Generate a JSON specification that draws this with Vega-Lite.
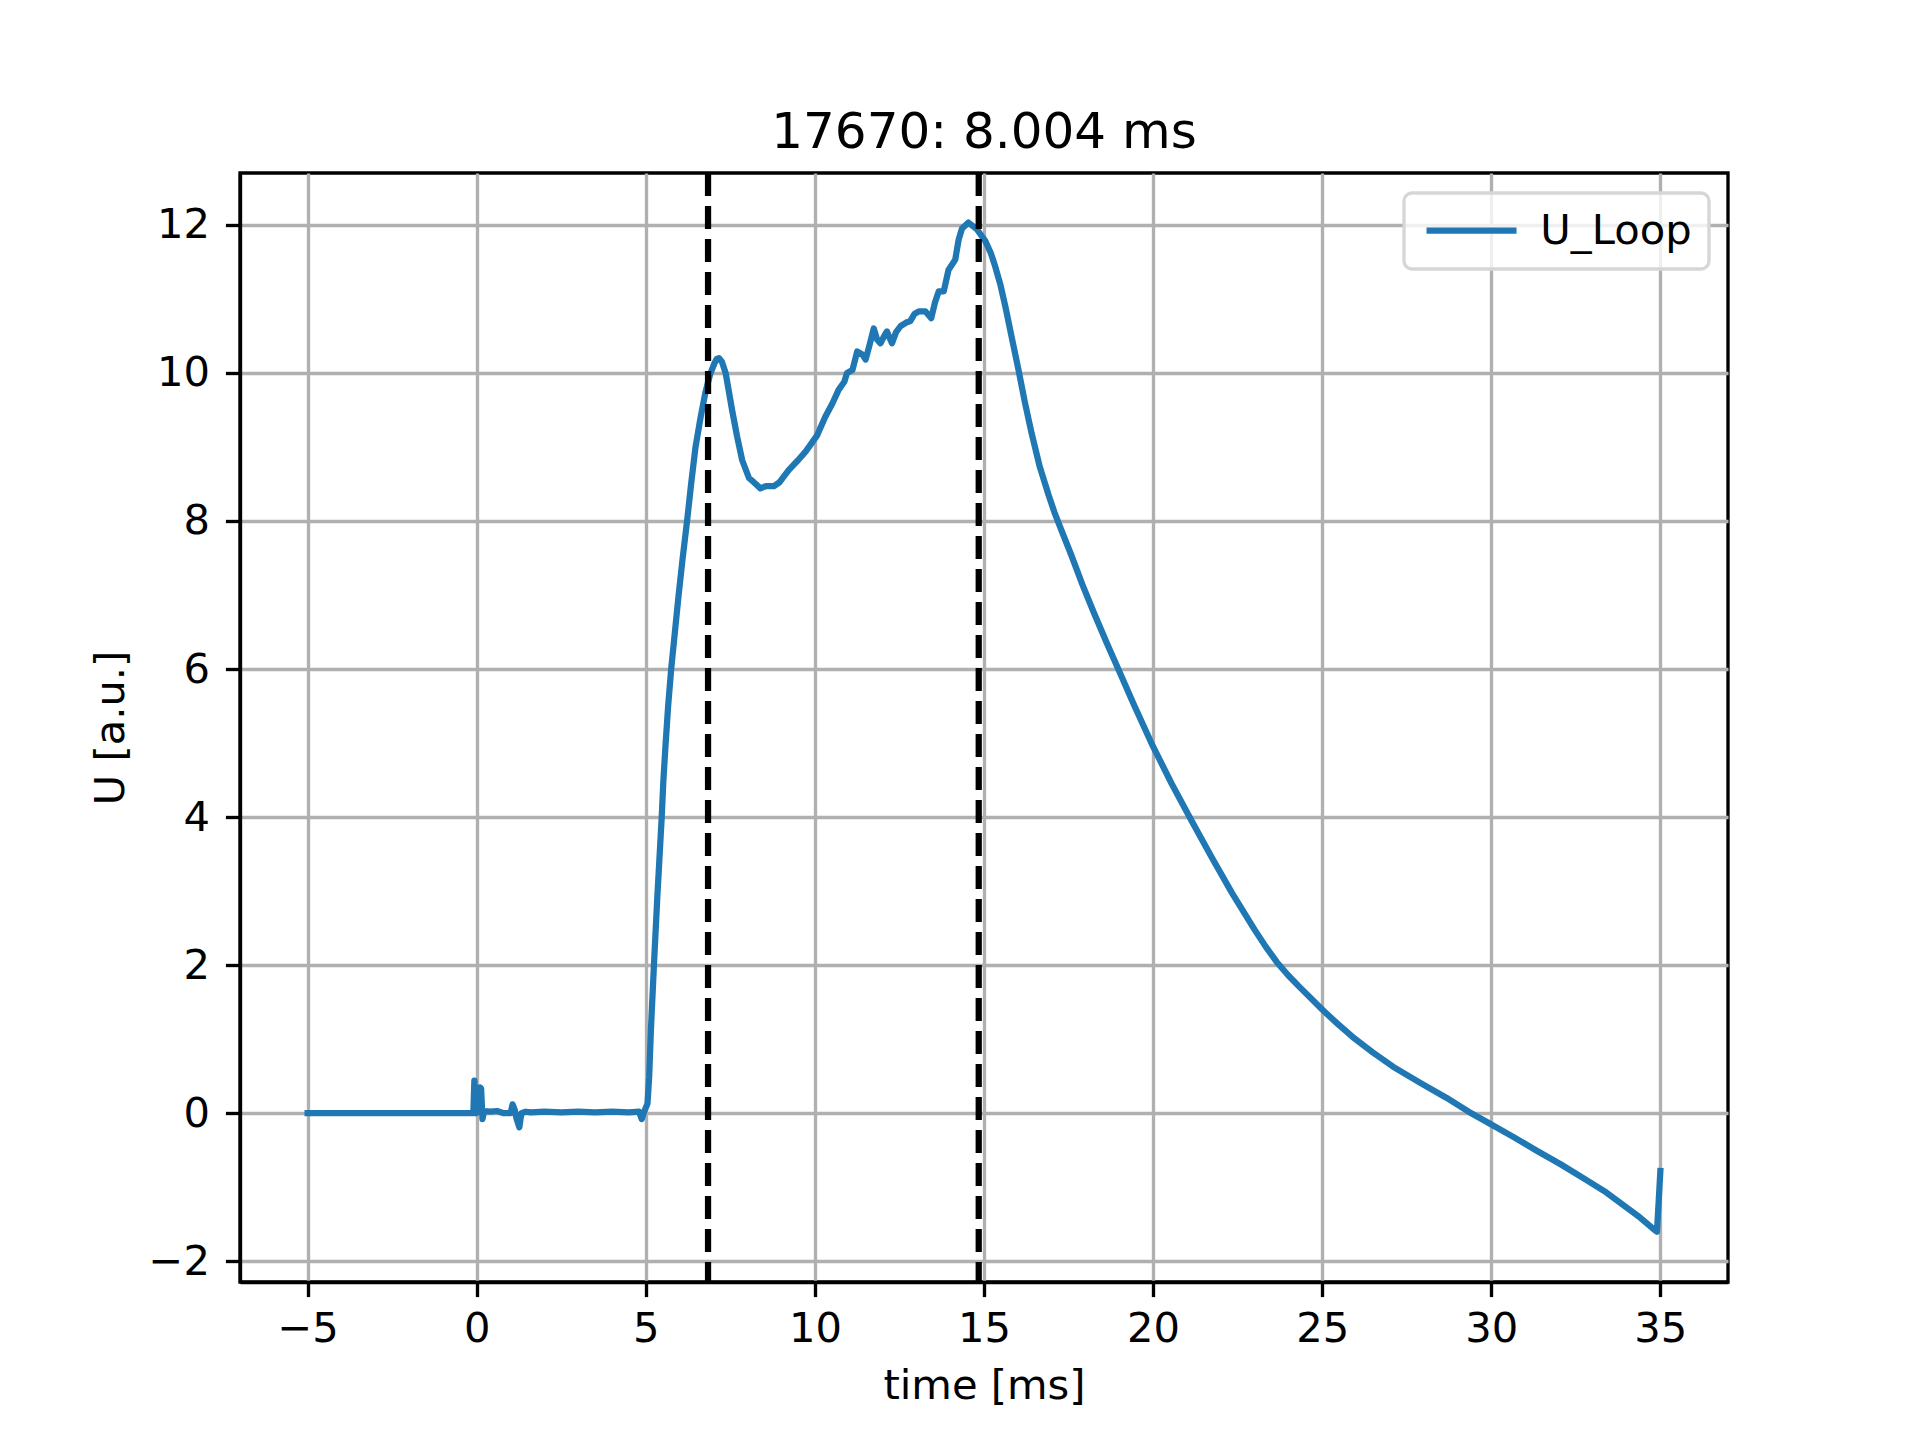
{
  "$schema": "https://vega.github.io/schema/vega-lite/v6.json",
  "width": 1488,
  "height": 1109,
  "autosize": "none",
  "padding": {"left": 240, "top": 173, "right": 192, "bottom": 158},
  "background": "white",
  "title": {
    "text": "17670: 8.004 ms",
    "font": "DejaVu Sans",
    "fontSize": 50,
    "fontWeight": "normal",
    "color": "black",
    "anchor": "middle",
    "baseline": "alphabetic",
    "offset": -28
  },
  "datasets": {
    "signal": [
      {"t": -5.0, "u": 0.0},
      {"t": -3.0, "u": 0.0},
      {"t": -1.0, "u": 0.0},
      {"t": -0.1, "u": 0.0},
      {"t": -0.07, "u": 0.44},
      {"t": -0.03, "u": 0.0},
      {"t": 0.05, "u": 0.02},
      {"t": 0.1, "u": 0.35},
      {"t": 0.13, "u": 0.33},
      {"t": 0.17, "u": -0.08},
      {"t": 0.22, "u": 0.03},
      {"t": 0.4, "u": 0.02},
      {"t": 0.6, "u": 0.03},
      {"t": 0.8, "u": 0.0},
      {"t": 1.0, "u": 0.0},
      {"t": 1.06, "u": 0.12},
      {"t": 1.12, "u": 0.05},
      {"t": 1.18, "u": -0.08},
      {"t": 1.26, "u": -0.19},
      {"t": 1.32, "u": 0.0},
      {"t": 1.45, "u": 0.02},
      {"t": 1.6, "u": 0.01},
      {"t": 2.0, "u": 0.02},
      {"t": 2.5, "u": 0.01},
      {"t": 3.0, "u": 0.02},
      {"t": 3.5, "u": 0.01},
      {"t": 4.0, "u": 0.02},
      {"t": 4.5, "u": 0.01},
      {"t": 4.8, "u": 0.02},
      {"t": 4.88, "u": -0.08},
      {"t": 4.95, "u": 0.02},
      {"t": 5.05, "u": 0.13},
      {"t": 5.1, "u": 0.5},
      {"t": 5.15, "u": 1.12},
      {"t": 5.24, "u": 2.0},
      {"t": 5.34, "u": 2.92},
      {"t": 5.47, "u": 4.0},
      {"t": 5.52, "u": 4.5},
      {"t": 5.58, "u": 4.95},
      {"t": 5.66, "u": 5.5},
      {"t": 5.75, "u": 6.0},
      {"t": 5.86, "u": 6.5},
      {"t": 5.97, "u": 7.0},
      {"t": 6.09, "u": 7.5},
      {"t": 6.22, "u": 8.0},
      {"t": 6.34, "u": 8.5},
      {"t": 6.47, "u": 9.0},
      {"t": 6.62, "u": 9.4},
      {"t": 6.76, "u": 9.73},
      {"t": 6.9, "u": 9.98},
      {"t": 7.03, "u": 10.13},
      {"t": 7.1, "u": 10.19},
      {"t": 7.16, "u": 10.2},
      {"t": 7.25, "u": 10.15},
      {"t": 7.36, "u": 10.0},
      {"t": 7.55, "u": 9.5},
      {"t": 7.7, "u": 9.14},
      {"t": 7.85, "u": 8.82},
      {"t": 8.05, "u": 8.58},
      {"t": 8.2, "u": 8.52},
      {"t": 8.39, "u": 8.44},
      {"t": 8.55, "u": 8.47},
      {"t": 8.79, "u": 8.47},
      {"t": 8.95, "u": 8.52},
      {"t": 9.23, "u": 8.69},
      {"t": 9.5, "u": 8.82},
      {"t": 9.73, "u": 8.94},
      {"t": 10.07, "u": 9.16},
      {"t": 10.3, "u": 9.4},
      {"t": 10.52, "u": 9.59},
      {"t": 10.7, "u": 9.77},
      {"t": 10.87, "u": 9.88},
      {"t": 10.95, "u": 10.0},
      {"t": 11.11, "u": 10.04},
      {"t": 11.25, "u": 10.29},
      {"t": 11.4, "u": 10.25},
      {"t": 11.5, "u": 10.18},
      {"t": 11.6, "u": 10.35},
      {"t": 11.74, "u": 10.6},
      {"t": 11.84, "u": 10.45},
      {"t": 11.94, "u": 10.4},
      {"t": 12.05, "u": 10.5},
      {"t": 12.13, "u": 10.56},
      {"t": 12.28, "u": 10.4},
      {"t": 12.4, "u": 10.55},
      {"t": 12.53, "u": 10.63},
      {"t": 12.7, "u": 10.68},
      {"t": 12.82, "u": 10.7},
      {"t": 12.95, "u": 10.8},
      {"t": 13.07, "u": 10.83},
      {"t": 13.27, "u": 10.83},
      {"t": 13.44, "u": 10.74},
      {"t": 13.55, "u": 10.95},
      {"t": 13.66, "u": 11.1},
      {"t": 13.81, "u": 11.1},
      {"t": 13.95, "u": 11.39},
      {"t": 14.15, "u": 11.53},
      {"t": 14.25, "u": 11.8},
      {"t": 14.35, "u": 11.95},
      {"t": 14.54, "u": 12.03},
      {"t": 14.79, "u": 11.94},
      {"t": 15.04, "u": 11.78},
      {"t": 15.2, "u": 11.62},
      {"t": 15.33, "u": 11.44},
      {"t": 15.48, "u": 11.2},
      {"t": 15.63, "u": 10.9},
      {"t": 15.82, "u": 10.48},
      {"t": 16.02, "u": 10.04},
      {"t": 16.21, "u": 9.6},
      {"t": 16.41, "u": 9.18},
      {"t": 16.65, "u": 8.73},
      {"t": 16.91, "u": 8.35},
      {"t": 17.08, "u": 8.12},
      {"t": 17.25, "u": 7.92},
      {"t": 17.58, "u": 7.54},
      {"t": 17.91, "u": 7.14},
      {"t": 18.24, "u": 6.77},
      {"t": 18.64, "u": 6.34},
      {"t": 18.97, "u": 6.0},
      {"t": 19.43, "u": 5.52},
      {"t": 19.96, "u": 4.99},
      {"t": 20.55, "u": 4.45},
      {"t": 21.15, "u": 3.94},
      {"t": 21.74, "u": 3.45},
      {"t": 22.34, "u": 2.97},
      {"t": 23.0, "u": 2.48},
      {"t": 23.33, "u": 2.25},
      {"t": 23.66, "u": 2.04},
      {"t": 24.0, "u": 1.86},
      {"t": 24.32, "u": 1.71},
      {"t": 25.0, "u": 1.4},
      {"t": 25.45, "u": 1.21},
      {"t": 25.9, "u": 1.03},
      {"t": 26.5, "u": 0.82},
      {"t": 27.09, "u": 0.63},
      {"t": 27.9, "u": 0.41},
      {"t": 28.67, "u": 0.21},
      {"t": 29.33, "u": 0.02},
      {"t": 29.99, "u": -0.15},
      {"t": 30.65, "u": -0.32},
      {"t": 31.32, "u": -0.5},
      {"t": 32.05, "u": -0.69},
      {"t": 32.77, "u": -0.89},
      {"t": 33.4, "u": -1.07},
      {"t": 33.96, "u": -1.26},
      {"t": 34.4, "u": -1.41},
      {"t": 34.81, "u": -1.57},
      {"t": 34.9, "u": -1.6},
      {"t": 35.0, "u": -0.78}
    ],
    "cuts": [
      {"t": 6.84},
      {"t": 14.844}
    ]
  },
  "layer": [
    {
      "data": {"name": "signal"},
      "mark": {
        "type": "line",
        "strokeWidth": 6.25,
        "strokeJoin": "round",
        "strokeCap": "square"
      },
      "encoding": {
        "x": {
          "field": "t",
          "type": "quantitative",
          "scale": {"domain": [-7, 37], "nice": false, "zero": false},
          "axis": {
            "values": [-5, 0, 5, 10, 15, 20, 25, 30, 35],
            "title": "time [ms]",
            "labelPadding": 12,
            "titleBaseline": "alphabetic",
            "titleY": 116
          }
        },
        "y": {
          "field": "u",
          "type": "quantitative",
          "scale": {"domain": [-2.28, 12.7], "nice": false, "zero": false},
          "axis": {
            "values": [-2, 0, 2, 4, 6, 8, 10, 12],
            "title": "U [a.u.]",
            "labelPadding": 16,
            "titleBaseline": "alphabetic",
            "titleX": -117
          }
        },
        "color": {
          "datum": "U_Loop",
          "type": "nominal",
          "scale": {"range": ["#1f77b4"]},
          "legend": {
            "orient": "none",
            "legendX": 1164,
            "legendY": 20,
            "title": null
          }
        }
      }
    },
    {
      "data": {"name": "cuts"},
      "mark": {
        "type": "rule",
        "color": "black",
        "strokeWidth": 6.25,
        "strokeDash": [23, 10]
      },
      "encoding": {
        "x": {"field": "t", "type": "quantitative"}
      }
    }
  ],
  "config": {
    "view": {"stroke": "black", "strokeWidth": 3.33},
    "axis": {
      "grid": true,
      "gridColor": "#b0b0b0",
      "gridWidth": 3.33,
      "domainColor": "black",
      "domainWidth": 3.33,
      "tickColor": "black",
      "tickWidth": 3.33,
      "tickSize": 14.6,
      "labelFont": "DejaVu Sans",
      "labelFontSize": 41.67,
      "labelColor": "black",
      "labelFlush": false,
      "labelOverlap": false,
      "titleFont": "DejaVu Sans",
      "titleFontSize": 41.67,
      "titleFontWeight": "normal",
      "titleColor": "black"
    },
    "legend": {
      "padding": 16.7,
      "cornerRadius": 8,
      "strokeColor": "#d6d6d6",
      "strokeWidth": 3.33,
      "fillColor": "rgba(255,255,255,0.8)",
      "symbolType": "M-1,0H5",
      "symbolSize": 900,
      "symbolStrokeWidth": 6.25,
      "labelFont": "DejaVu Sans",
      "labelFontSize": 41.67,
      "labelColor": "black",
      "labelOffset": 78,
      "labelLimit": 400
    }
  }
}
